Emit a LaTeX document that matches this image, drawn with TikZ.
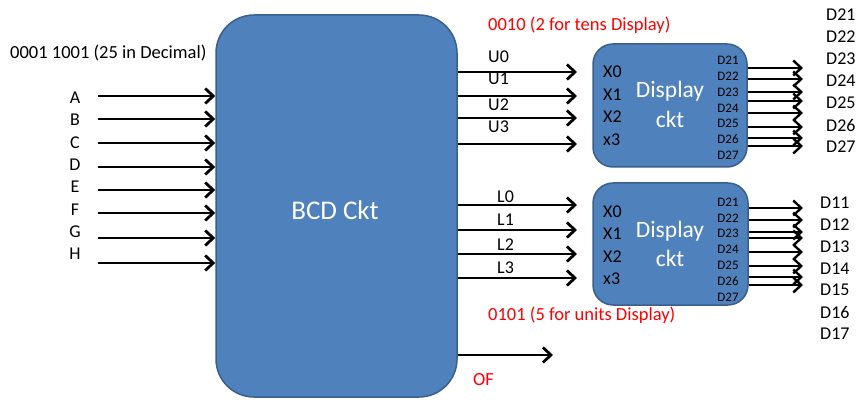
\documentclass[tikz,border=0pt]{standalone}
\usepackage{fontspec}
\setmainfont{Carlito}
\usetikzlibrary{arrows.meta}
\definecolor{boxblue}{HTML}{4F81BD}
\definecolor{boxedge}{HTML}{3A5F8C}
\definecolor{redtxt}{HTML}{FF0000}
\begin{document}
\begin{tikzpicture}[x=1pt,y=-1pt,
  blk/.style={rectangle,fill=boxblue,draw=boxedge,line width=1.5pt,inner sep=0pt},
  lbl/.style={font=\fontsize{18}{20}\selectfont,inner sep=0pt},
  redl/.style={font=\fontsize{18.5}{20}\selectfont,inner sep=0pt,text=redtxt,anchor=west},
  small/.style={font=\fontsize{13}{14}\selectfont,inner sep=0pt},
  wtxt/.style={text=white,inner sep=0pt,align=center},
  sig/.style={line width=2.8pt,-{Straight Barb[length=8pt,width=15pt,line width=2.8pt]}},
  osig/.style={line width=2.4pt,-{Straight Barb[length=8pt,width=15pt,line width=2.4pt]}}]
\useasboundingbox (0,0) rectangle (861,411);
% main block
\node[blk,rounded corners=38pt,minimum width=241pt,minimum height=382pt] (bcd) at (336.5,206) {};
\node[wtxt,font=\fontsize{27}{29}\selectfont] (bcdt) at (335,210) {BCD Ckt};
% display blocks
\node[blk,rounded corners=20pt,minimum width=154pt,minimum height=123pt] (du) at (670,105.5) {};
\node[blk,rounded corners=20pt,minimum width=155pt,minimum height=122pt] (dl) at (670.5,244) {};
\node[wtxt,font=\fontsize{23.5}{25}\selectfont] (dut1) at (670,91) {Display};
\node[wtxt,font=\fontsize{23.5}{25}\selectfont] (dut2) at (670,119) {ckt};
\node[wtxt,font=\fontsize{23.5}{25}\selectfont] (dlt1) at (670,231) {Display};
\node[wtxt,font=\fontsize{23.5}{25}\selectfont] (dlt2) at (670,258) {ckt};
% title
\node[font=\fontsize{18.5}{20}\selectfont,inner sep=0pt,anchor=west] (title) at (10,53) {0001 1001 (25 in Decimal)};
% inputs
\foreach \n/\ly/\ay in {A/98/96,B/120/119,C/143/143,D/165/167,E/187/190,F/210/213,G/232/238,H/254/263}{
  \node[lbl] (in\n) at (75,\ly) {\n};
  \coordinate (s\n) at (98,\ay);
  \draw[sig] (s\n) -- (bcd.west |- s\n);
}
% upper outputs
\node[redl] (tens) at (488,25) {0010 (2 for tens Display)};
\foreach \i/\ly/\ay in {0/57/72,1/79/96,2/105/118,3/127/144}{
  \node[lbl,anchor=west] (U\i) at (488,\ly) {U\i};
  \coordinate (u\i) at (bcd.east |- 0,\ay);
  \coordinate (ue\i) at (577,\ay);
  \draw[sig] (u\i) -- (ue\i);
}
% lower outputs
\foreach \i/\ly/\ay in {0/197/205,1/220/230,2/245/254,3/268/278}{
  \node[lbl,anchor=west] (L\i) at (497,\ly) {L\i};
  \coordinate (l\i) at (bcd.east |- 0,\ay);
  \coordinate (le\i) at (577,\ay);
  \draw[sig] (l\i) -- (le\i);
}
\node[redl] (units) at (488,315) {0101 (5 for units Display)};
% OF
\coordinate (ofe) at (553,355);
\draw[sig] (bcd.east |- ofe) -- (ofe);
\node[redl] (oft) at (473,380) {OF};
% X labels
\foreach \t/\y [count=\k] in {X0/72,X1/95,X2/117,x3/140}{
  \node[lbl,anchor=west] (xu\k) at (603,\y) {\t};
}
\foreach \t/\y [count=\k] in {X0/212,X1/234,X2/257,x3/279}{
  \node[lbl,anchor=west] (xl\k) at (603,\y) {\t};
}
% small D labels inside
\foreach \k in {1,...,7}{
  \node[small] (sdu\k) at (728,{60.5+15.8*(\k-1)}) {D2\k};
  \node[small] (sdl\k) at (728,{202+15.8*(\k-1)}) {D2\k};
}
% display outputs
\foreach \y [count=\k] in {68,79,92,101,113,127,138,146}{
  \coordinate (ou\k) at (du.east |- 0,\y);
  \coordinate (oue\k) at (803,\y);
  \draw[osig] (ou\k) -- (oue\k);
}
\foreach \y [count=\k] in {208,220,232,238,252,266,277,285}{
  \coordinate (ol\k) at (dl.east |- 0,\y);
  \coordinate (ole\k) at (803,\y);
  \draw[osig] (ol\k) -- (ole\k);
}
% right labels
\foreach \k in {1,...,7}{
  \node[lbl,anchor=west] (r2\k) at (826,{15+22*(\k-1)}) {D2\k};
  \node[lbl,anchor=west] (r1\k) at (820,{203+21.8*(\k-1)}) {D1\k};
}
\end{tikzpicture}
\end{document}
